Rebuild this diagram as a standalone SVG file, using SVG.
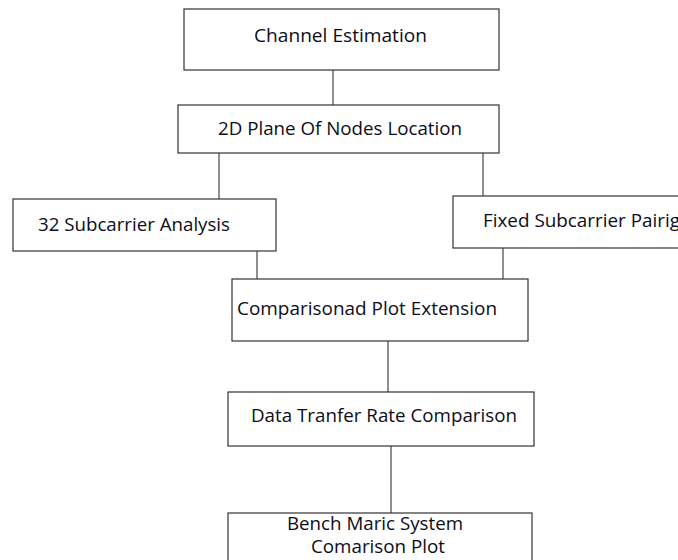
<svg xmlns="http://www.w3.org/2000/svg" width="678" height="560" viewBox="0 0 678 560">
<style>
.box{fill:#fff;stroke:#333;stroke-width:1.2}
.t{font-family:"Open Sans","Liberation Sans",sans-serif;font-size:18px;fill:#0d0d1a}
.c{stroke:#444;stroke-width:1.2;fill:none}
</style>
<rect width="678" height="560" fill="#fff"/>
<g id="connectors">
<line class="c" x1="333" y1="70" x2="333" y2="105"/>
<line class="c" x1="219" y1="153" x2="219" y2="199"/>
<line class="c" x1="483" y1="153" x2="483" y2="196"/>
<line class="c" x1="257" y1="251" x2="257" y2="279"/>
<line class="c" x1="503" y1="248" x2="503" y2="279"/>
<line class="c" x1="388" y1="341" x2="388" y2="392"/>
<line class="c" x1="391" y1="446" x2="391" y2="513"/>
</g>
<g id="n1"><rect class="box" x="184" y="9" width="315" height="61"/><text class="t" x="254" y="42" textLength="173" lengthAdjust="spacingAndGlyphs">Channel Estimation</text></g>
<g id="n2"><rect class="box" x="178" y="105" width="321" height="48"/><text class="t" x="218" y="135" textLength="244" lengthAdjust="spacingAndGlyphs">2D Plane Of Nodes Location</text></g>
<g id="n3"><rect class="box" x="13" y="199" width="263" height="52"/><text class="t" x="38" y="231" textLength="192" lengthAdjust="spacingAndGlyphs">32 Subcarrier Analysis</text></g>
<g id="n4"><rect class="box" x="453" y="196" width="240" height="52"/><text class="t" x="483" y="227" textLength="197" lengthAdjust="spacingAndGlyphs">Fixed Subcarrier Pairig</text></g>
<g id="n5"><rect class="box" x="232" y="279" width="296" height="62"/><text class="t" x="237" y="315" textLength="260" lengthAdjust="spacingAndGlyphs">Comparisonad Plot Extension</text></g>
<g id="n6"><rect class="box" x="228" y="392" width="306" height="54"/><text class="t" x="251" y="422" textLength="266" lengthAdjust="spacingAndGlyphs">Data Tranfer Rate Comparison</text></g>
<g id="n7"><rect class="box" x="228" y="513" width="304" height="60"/><text class="t" x="287" y="530" textLength="176" lengthAdjust="spacingAndGlyphs">Bench Maric System</text><text class="t" x="311" y="553" textLength="134" lengthAdjust="spacingAndGlyphs">Comarison Plot</text></g>
</svg>
